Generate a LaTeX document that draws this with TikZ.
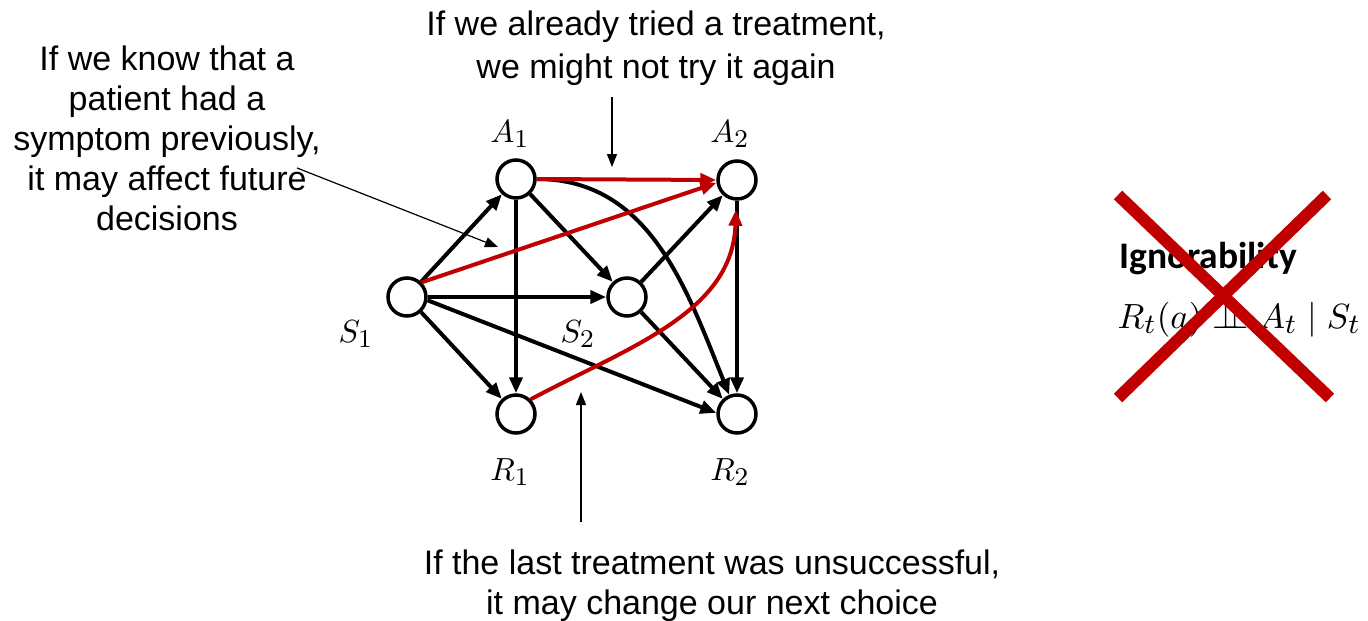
\documentclass[tikz,border=0pt]{standalone}
\usepackage{fix-cm}
\usepackage{fontspec}
\setmainfont{Liberation Sans}
\newfontfamily\carlito{Carlito}
\DeclareMathSizes{10}{10}{8}{6}
\usetikzlibrary{arrows.meta}
\definecolor{dkred}{RGB}{192,0,0}
\begin{document}
\begin{tikzpicture}[x=1pt,y=-1pt,
  vnode/.style={circle,draw,line width=3.5pt,minimum size=38pt,inner sep=0pt},
  edge/.style={line width=4pt,-{Triangle[length=16pt,width=13pt]}},
  redge/.style={edge,draw=dkred,color=dkred},
  note/.style={font=\fontsize{34}{40}\selectfont,align=center,inner sep=0pt,anchor=north},
  pointer/.style={line width=1.2pt,-{Triangle[length=13pt,width=10pt]}},
  vlabel/.style={font=\fontsize{10}{12}\selectfont,scale=3.2,transform shape,inner sep=0pt,anchor=base},
  crossline/.style={draw=dkred,line width=12pt}]
\useasboundingbox (0,0) rectangle (1368,621);

% graph nodes
\node[vnode] (A1) at (516,179) {};
\node[vnode] (A2) at (737,180) {};
\node[vnode] (S1) at (407,297) {};
\node[vnode] (S2) at (627,297) {};
\node[vnode] (R1) at (516,414) {};
\node[vnode] (R2) at (737,414) {};

% labels
\node[vlabel] (lA1) at (510,142) {$A_1$};
\node[vlabel] (lA2) at (730,142) {$A_2$};
\node[vlabel] (lS1) at (356,342) {$S_1$};
\node[vlabel] (lS2) at (578,342) {$S_2$};
\node[vlabel] (lR1) at (510,480) {$R_1$};
\node[vlabel] (lR2) at (730,480) {$R_2$};

% black edges
\draw[edge] (S1) -- (A1);
\draw[edge] (S1) -- (S2);
\draw[edge] (S1) -- (R1);
\draw[edge] (S1.-9) -- (R2.177);
\draw[edge] (A1) -- (R1);
\draw[edge] (A1) -- (S2);
\draw[edge] (A1.east) to[out=0,in=112] (R2);
\draw[edge] (S2) -- (A2);
\draw[edge] (S2) -- (R2);
\draw[edge] (A2) -- (R2);

% red edges
\draw[redge] (A1.east) -- (A2.west);
\draw[redge] (S1.45) -- (A2.188);
\draw[redge,shorten >=9pt] (R1.45) to[out=28,in=-92] (A2);

% notes
\node[note] (ntop) at (656,11) {If we already tried a treatment,\\[3pt]we might not try it again};
\node[note] (nleft) at (167,46) {If we know that a\\patient had a\\symptom previously,\\it may affect future\\decisions};
\node[note] (nbot) at (712,550) {If the last treatment was unsuccessful,\\it may change our next choice};

% pointers
\coordinate (p1s) at (297,168);
\coordinate (p1e) at (498,247);
\coordinate (p2s) at (612,97);
\coordinate (p2e) at (612,167);
\coordinate (p3s) at (581,522);
\coordinate (p3e) at (581,392);
\draw[pointer] (p1s) -- (p1e);
\draw[pointer] (p2s) -- (p2e);
\draw[pointer] (p3s) -- (p3e);

% ignorability
\node[font=\carlito\bfseries\fontsize{37.5}{42}\selectfont,anchor=base west,inner sep=0pt] (ign) at (1119,268) {Ignorability};
\node[font=\fontsize{10}{12}\selectfont,scale=3.5,transform shape,anchor=base west,inner sep=0pt] (frm) at (1117,328) {$R_t(a)\perp\!\!\!\perp A_t\mid S_t$};

% red cross
\coordinate (x1) at (1118,195);
\coordinate (x2) at (1330,398);
\coordinate (x3) at (1327,195);
\coordinate (x4) at (1118,398);
\draw[crossline] (x1) -- (x2);
\draw[crossline] (x3) -- (x4);
\end{tikzpicture}
\end{document}
